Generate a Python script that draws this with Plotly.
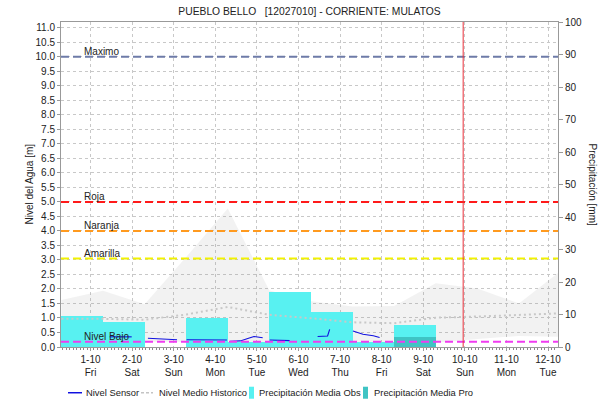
import plotly.graph_objects as go

# ---------------- data ----------------
day_ticks = [1, 2, 3, 4, 5, 6, 7, 8, 9, 10, 11, 12]
day_labels = ["1-10", "2-10", "3-10", "4-10", "5-10", "6-10",
              "7-10", "8-10", "9-10", "10-10", "11-10", "12-10"]
weekday_labels = ["Fri", "Sat", "Sun", "Mon", "Tue", "Wed",
                  "Thu", "Fri", "Sat", "Sun", "Mon", "Tue"]

# daily precipitation (mm), 24h ending 07:00 of each day
precip_days = [1, 2, 3, 4, 5, 6, 7, 8, 9]
precip_obs = [9.6, 7.8, 0.0, 9.0, 1.5, 17.0, 10.9, 1.4, 6.8]
precip_pro_days = [9]
precip_pro = [3.2]

# historical band (m), sampled at 07:00 each day
hist_t = [0.3, 1.3, 2.3, 3.3, 4.3, 5.3, 6.3, 7.3, 8.3, 9.3, 10.3, 11.3, 12.3]
hist_max = [1.62, 1.94, 1.47, 3.10, 4.77, 1.95, 1.58, 1.40, 1.41, 2.20, 2.02, 1.50, 2.62]
hist_min = [0.10, 0.10, 0.18, 0.18, 0.12, 0.10, 0.10, 0.10, 0.10, 0.15, 0.28, 0.38, 0.35]
hist_mean = [0.97, 0.97, 0.94, 1.12, 1.38, 1.11, 0.99, 0.85, 0.82, 1.01, 1.05, 1.10, 1.16]

# sensor level (m); None = gap in record
sensor_t = [1.46, 1.75, 1.99, None,
            2.38, 2.60, 2.85, 3.08, None,
            3.31, 3.60, 3.95, 4.28, None,
            4.35, 4.60, 4.80, 4.93, 5.14, None,
            5.31, 5.55, 5.79, None,
            6.46, 6.70, 6.75, None,
            7.31, 7.55, 7.80, 7.95]
sensor_v = [0.35, 0.34, 0.35, None,
            0.30, 0.29, 0.27, 0.25, None,
            0.25, 0.24, 0.25, 0.24, None,
            0.20, 0.21, 0.30, 0.36, 0.32, None,
            0.24, 0.23, 0.22, None,
            0.36, 0.38, 0.61, None,
            0.55, 0.44, 0.39, 0.33]

threshold_names = ["Maximo", "Roja", "Naranja", "Amarilla", "Nivel Bajo"]
threshold_values = [10.0, 5.0, 4.0, 3.05, 0.18]
threshold_colors = ["#6E7BA8", "#FF1A1A", "#FF9A1F", "#F2F200", "#F03CF0"]

now_day = 9.96
level_range = [0, 11.2]
precip_range = [0, 100]

title = "PUEBLO BELLO   [12027010] - CORRIENTE: MULATOS"
FONT = "Liberation Sans, Arial, sans-serif"
GRID = "#C8C8C8"
OBS_COLOR = "#58F1F1"
PRO_COLOR = "#3FC4C4"

fig = go.Figure()

# layer 1 (y, left level axis): historical band
fig.add_trace(go.Scatter(x=hist_t, y=hist_min, mode="lines", line=dict(width=0),
                         yaxis="y", showlegend=False, hoverinfo="skip"))
fig.add_trace(go.Scatter(x=hist_t, y=hist_max, mode="lines", line=dict(width=0),
                         fill="tonexty", fillcolor="rgba(140,140,140,0.11)",
                         yaxis="y", showlegend=False, hoverinfo="skip"))

# layer 2 (y2, right precipitation axis): bars
fig.add_trace(go.Bar(x=[d - 0.2 for d in precip_days], y=precip_obs, width=1.0,
                     marker=dict(color=OBS_COLOR, line=dict(width=0)),
                     name="Precipitación Media Obs", yaxis="y2", showlegend=False))
fig.add_trace(go.Bar(x=[d - 0.2 for d in precip_pro_days], y=precip_pro, width=1.0,
                     marker=dict(color=PRO_COLOR, line=dict(width=0)),
                     name="Precipitación Media Pro", yaxis="y2", showlegend=False))

# layer 3 (y3, hidden copy of level axis): level lines on top of bars
fig.add_trace(go.Scatter(x=hist_t, y=hist_mean, mode="lines",
                         line=dict(color="#C8C8C8", width=2, dash="2px,3px"),
                         name="Nivel Medio Historico", yaxis="y3", showlegend=False))
fig.add_trace(go.Scatter(x=sensor_t, y=sensor_v, mode="lines",
                         line=dict(color="#1010E0", width=1.1),
                         name="Nivel Sensor", yaxis="y3", showlegend=False,
                         connectgaps=False))

# threshold lines
for nm, val, col in zip(threshold_names, threshold_values, threshold_colors):
    fig.add_shape(type="line", xref="paper", x0=0, x1=1, yref="y", y0=val, y1=val,
                  line=dict(color=col, width=2, dash="8px,4px"), layer="above")
    fig.add_annotation(xref="paper", x=0.042, yref="y", y=val, text=nm,
                       showarrow=False, xanchor="left", yanchor="bottom", yshift=-2,
                       font=dict(family=FONT, size=10, color="#222"))

# current-time marker
fig.add_shape(type="line", xref="x", x0=now_day, x1=now_day, yref="paper", y0=0, y1=1,
              line=dict(color="#E8303A", width=1), layer="above")

# custom legend
ly = -0.1407
legend_items = [
    ("line", "#1010E0", "Nivel Sensor", 68, 82, 84),
    ("dot", "#C4C4C4", "Nivel Medio Historico", 141, 153, 157),
    ("box", OBS_COLOR, "Precipitación Media Obs", 249, 254, 257),
    ("box", PRO_COLOR, "Precipitación Media Pro", 363, 368, 372),
]
W0, W = 61, 497
for kind, col, txt, x0, x1, xt in legend_items:
    px0 = (x0 - W0) / W
    px1 = (x1 - W0) / W
    if kind == "line":
        fig.add_shape(type="line", xref="paper", yref="paper", x0=px0, x1=px1, y0=ly, y1=ly,
                      line=dict(color=col, width=1.5))
    elif kind == "dot":
        fig.add_shape(type="line", xref="paper", yref="paper", x0=px0, x1=px1, y0=ly, y1=ly,
                      line=dict(color=col, width=1.5, dash="3px,2px"))
    else:
        fig.add_shape(type="rect", xref="paper", yref="paper", x0=px0, x1=px1,
                      y0=ly - 6 / 324.8, y1=ly + 6 / 324.8,
                      line=dict(width=0), fillcolor=col)
    fig.add_annotation(xref="paper", yref="paper", x=(xt - W0) / W, y=ly, text=txt,
                       showarrow=False, xanchor="left", yanchor="middle",
                       font=dict(family=FONT, size=9.4, color="#222"))

# axis titles
fig.add_annotation(xref="paper", yref="paper", x=(29 - W0) / W, y=0.5,
                   text="Nivel del Agua [m]", textangle=-90, showarrow=False,
                   xanchor="center", yanchor="middle",
                   font=dict(family=FONT, size=10, color="#222"))
fig.add_annotation(xref="paper", yref="paper", x=(592 - W0) / W, y=0.5,
                   text="Precipitación [mm]", textangle=90, showarrow=False,
                   xanchor="center", yanchor="middle",
                   font=dict(family=FONT, size=10, color="#222"))

fig.update_layout(
    width=603, height=403,
    margin=dict(l=61, r=45, t=22, b=56),
    paper_bgcolor="white", plot_bgcolor="white",
    barmode="overlay", bargap=0,
    showlegend=False,
    font=dict(family=FONT, size=10, color="#333"),
    title=dict(text=title, x=0.5, xref="paper", xanchor="center",
               y=1 - 11 / 403, yanchor="middle",
               font=dict(family=FONT, size=10.3, color="#222")),
    xaxis=dict(range=[0.29, 12.24], tickmode="array", tickvals=day_ticks,
               ticktext=[f"{a}<br>{b}" for a, b in zip(day_labels, weekday_labels)],
               showgrid=True, gridcolor=GRID, griddash="dot", gridwidth=1,
               showline=True, linecolor="#999", mirror=True, linewidth=1,
               ticks="outside", ticklen=3, tickcolor="#999",
               minor=dict(dtick=1 / 12, tick0=0, ticks="outside", ticklen=2,
                          tickcolor="#888", showgrid=False),
               tickfont=dict(family=FONT, size=10, color="#222"), zeroline=False),
    yaxis=dict(range=level_range, side="left",
               dtick=0.5, tick0=0, tickformat=".1f",
               showgrid=True, gridcolor=GRID, griddash="dot", gridwidth=1,
               showline=True, linecolor="#999", linewidth=1,
               ticks="outside", ticklen=3, tickcolor="#999",
               tickfont=dict(family=FONT, size=10, color="#222"), zeroline=False),
    yaxis2=dict(range=precip_range, overlaying="y", side="right", tickmode="array",
                tickvals=[0, 10, 20, 30, 40, 50, 60, 70, 80, 90, 100],
                showgrid=False, showline=True, linecolor="#999", linewidth=1,
                ticks="outside", ticklen=4, tickcolor="#999",
                tickfont=dict(family=FONT, size=10, color="#222"), zeroline=False),
    yaxis3=dict(range=level_range, overlaying="y", side="left", visible=False,
                showgrid=False, zeroline=False),
)

fig.write_html("out.html", config={"displayModeBar": False},
               post_script="document.body.style.margin='0';document.body.style.overflow='hidden';")
